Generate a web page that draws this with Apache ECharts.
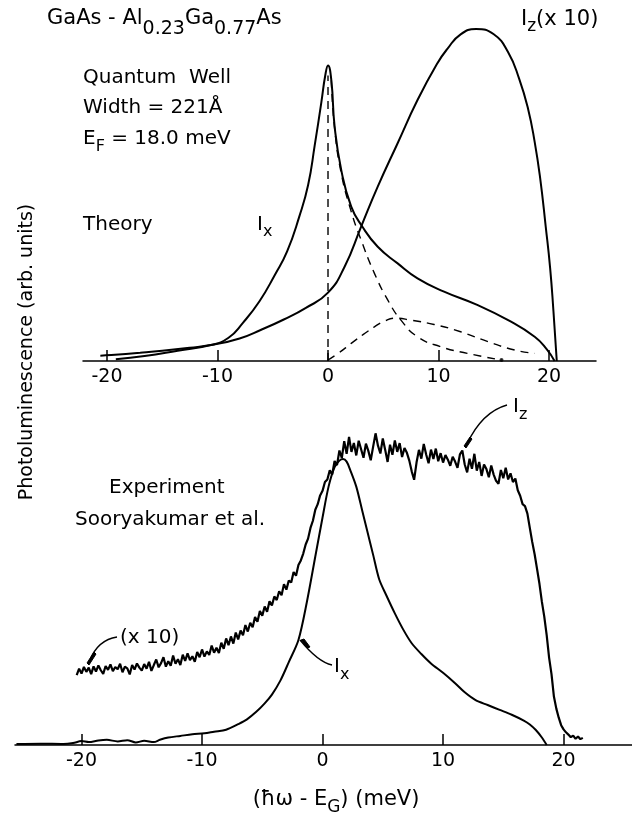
<!DOCTYPE html>
<html><head><meta charset="utf-8">
<script src="https://cdn.jsdelivr.net/npm/echarts@6/dist/echarts.min.js"></script>
<style>html,body{margin:0;padding:0;background:#fff}#c{width:632px;height:815px}</style>
</head><body><div id="c"></div>
<script>
// ---- tick labels ----
const tickValues = [-20, -10, 0, 10, 20];
const tickLabels = ['-20', '-10', '0', '10', '20'];

// ---- Theory panel ----
const thIxX = [-19.2,-16.6,-13.6,-10.6,-9.0,-7.7,-6.2,-4.8,-3.7,-2.6,-1.8,-1.2,-0.6,-0.25,0,0.3,0.6,1.2,2.1,3.1,4.5,6.3,8.1,10.5,13.5,16.3,18.7,19.8,20.5];
const thIxY = [0.5,1.5,3.1,4.8,7.0,11.5,18,26,33,43.5,53,65,78,86,89,84.6,70.6,57.5,46.5,40.5,34.4,29.4,24.9,20.9,16.9,12.3,7.3,3.5,0];
const thIzX = [-20.6,-19.6,-17,-15,-12.5,-10.6,-8,-6,-4,-2,0,1.5,3,4.5,6.3,8.1,9.9,10.8,12,13.4,15,16.3,17.3,18.1,18.7,19.2,19.7,20.1,20.4,20.7];
const thIzY = [1.6,1.8,2.5,3.1,4.0,4.8,6.8,9.5,12.5,16.0,20.6,28.4,40.5,52.5,65.6,78.6,89.7,94,98.4,100,98.4,93,85,76,66,55,40.5,28,15,0];
const thDashVX = [0, 0];
const thDashVY = [0, 86];
const thDashDecayX = [0.3,0.6,1.2,2.1,3.0,4.2,5.4,6.6,8.1,10.2,12.6,15.7];
const thDashDecayY = [84.6,70,56.5,45,36.4,26.4,18.4,12.3,7.3,4.3,2.3,0.3];
const thDashHumpX = [0,1,2.1,3.2,4.2,5.1,6.0,7.5,9.6,12.0,14.5,16.9,18.7];
const thDashHumpY = [0.3,2.5,5.3,8,10.3,12.0,12.9,12.3,11.0,8.8,5.8,3.3,2.3];

// ---- Experiment panel ----
const exIxX = [-25.4,-23.4,-21.5,-20.7,-20.0,-19.4,-18.6,-17.9,-17.0,-16.2,-15.5,-14.8,-14.0,-13.5,-12.8,-11.8,-10.8,-9.8,-9.0,-8.0,-7.0,-6.3,-5.5,-4.8,-4.2,-3.5,-2.8,-2.0,-1.3,-0.6,0,0.5,1.0,1.4,1.7,2.0,2.3,2.8,3.3,3.7,4.2,4.7,5.3,6.0,6.7,7.4,8.2,9.0,10.0,11.0,11.8,12.7,13.7,14.7,15.7,16.7,17.2,17.7,18.2,18.6];
const exIxY = [0.3,0.4,0.3,0.6,1.2,0.9,1.4,1.6,1.1,1.5,0.8,1.3,0.9,1.6,2.3,2.8,3.3,3.6,4.1,4.7,6.4,7.8,10.2,12.8,15.5,19.8,25.5,32.3,44,58,70,79.5,85.5,87.5,88,87.2,84.6,79.5,72,66,58.5,51,46,40.5,35.5,31.3,28,25.1,22.2,19.0,16.2,13.8,12.3,10.8,9.3,7.5,6.3,4.6,2.3,0];
const exIzPts = [[-20.4,21.5],[-20.2,23.5],[-20.0,22.0],[-19.8,24.0],[-19.6,22.5],[-19.4,23.8],[-19.2,21.8],[-19.0,24.2],[-18.8,22.6],[-18.6,24.5],[-18.4,23.0],[-18.2,21.9],[-18.0,24.3],[-17.8,23.1],[-17.6,24.8],[-17.4,22.7],[-17.2,24.0],[-17.0,23.3],[-16.8,25.0],[-16.6,22.4],[-16.4,24.1],[-16.2,23.6],[-16.0,21.7],[-15.8,24.6],[-15.6,23.2],[-15.4,25.1],[-15.2,23.8],[-15.0,22.9],[-14.8,24.9],[-14.6,23.5],[-14.4,25.6],[-14.2,22.8],[-14.0,24.6],[-13.8,26.3],[-13.6,23.9],[-13.4,25.2],[-13.2,27.0],[-13.0,24.1],[-12.8,25.8],[-12.6,24.4],[-12.4,27.5],[-12.2,25.0],[-12.0,26.4],[-11.8,24.6],[-11.6,27.8],[-11.4,25.9],[-11.2,28.2],[-11.0,26.1],[-10.8,27.3],[-10.6,25.6],[-10.4,28.6],[-10.2,27.0],[-10.0,29.4],[-9.8,27.2],[-9.6,28.8],[-9.4,27.7],[-9.2,30.6],[-9.0,28.4],[-8.8,29.9],[-8.6,28.3],[-8.4,31.5],[-8.2,29.6],[-8.0,32.8],[-7.8,30.7],[-7.6,33.4],[-7.4,31.2],[-7.2,34.6],[-7.0,32.5],[-6.8,35.2],[-6.6,33.8],[-6.4,36.9],[-6.2,34.9],[-6.0,37.6],[-5.8,36.2],[-5.6,39.4],[-5.4,37.9],[-5.2,41.2],[-5.0,39.8],[-4.8,42.6],[-4.6,41.0],[-4.4,44.2],[-4.2,42.9],[-4.0,45.7],[-3.8,44.6],[-3.6,47.3],[-3.4,46.1],[-3.2,49.5],[-3.0,47.8],[-2.8,50.6],[-2.6,50.0],[-2.4,53.2],[-2.2,52.1],[-2.0,55.4],[-1.8,56.8],[-1.6,58.9],[-1.4,61.7],[-1.2,63.5],[-1.0,66.8],[-0.8,69.0],[-0.6,72.4],[-0.4,74.1],[-0.2,76.8],[0.0,78.2],[0.2,80.9],[0.4,81.7],[0.6,84.5],[0.8,83.2],[1.0,87.4],[1.2,86.1],[1.4,90.6],[1.6,88.3],[1.8,93.5],[2.0,89.6],[2.2,94.8],[2.4,90.2],[2.6,92.9],[2.8,89.1],[3.0,93.6],[3.2,91.0],[3.4,88.4],[3.6,92.7],[3.8,90.5],[4.0,87.6],[4.2,91.8],[4.4,95.9],[4.6,92.1],[4.8,89.7],[5.0,94.3],[5.2,90.8],[5.4,87.1],[5.6,92.4],[5.8,89.3],[6.0,93.7],[6.2,90.2],[6.4,92.9],[6.6,88.6],[6.8,91.4],[7.0,89.9],[7.2,87.5],[7.4,84.2],[7.6,81.6],[7.8,86.9],[8.0,90.8],[8.2,88.1],[8.4,92.6],[8.6,89.4],[8.8,86.7],[9.0,90.9],[9.2,88.0],[9.4,91.2],[9.6,87.3],[9.8,89.8],[10.0,86.9],[10.2,89.2],[10.4,87.8],[10.6,85.9],[10.8,88.7],[11.0,87.2],[11.2,85.3],[11.4,89.4],[11.6,90.6],[11.8,86.3],[12.0,83.9],[12.2,88.1],[12.4,85.0],[12.6,89.6],[12.8,84.4],[13.0,87.1],[13.2,82.8],[13.4,86.3],[13.6,84.9],[13.8,82.4],[14.0,86.0],[14.2,83.2],[14.4,81.3],[14.6,80.4],[14.8,84.6],[15.0,82.1],[15.2,85.3],[15.4,81.7],[15.6,83.6],[15.8,80.9],[16.0,82.0],[16.2,78.4],[16.4,76.7],[16.6,74.1],[16.8,73.5],[17.0,71.2],[17.2,66.8],[17.4,62.5],[17.6,58.7],[17.8,54.2],[18.0,49.6],[18.2,44.1],[18.4,39.5],[18.6,33.8],[18.8,26.9],[19.0,21.8],[19.2,14.9],[19.4,11.2],[19.6,8.4],[19.8,6.1],[20.0,4.8],[20.2,3.9],[20.4,3.2],[20.6,2.4],[20.8,2.9],[21.0,1.9],[21.2,2.6],[21.4,1.8],[21.6,2.2]];

function zip(xs, ys) { return xs.map((x, i) => [x, ys[i]]); }

const FONT = 'DejaVu Sans';
const mctx = document.createElement('canvas').getContext('2d');
function tw(t, sz) { mctx.font = sz + 'px "' + FONT + '"'; return mctx.measureText(t).width; }
function seq(x, y, parts, center) {
  const els = [];
  let total = 0; parts.forEach(([t, dy, sz]) => { total += tw(t, sz); });
  let cx = center ? x - total / 2 : x;
  parts.forEach(([t, dy, sz]) => {
    els.push({ type: 'text', x: cx, y: y + dy, silent: true,
      style: { text: t, font: sz + 'px "' + FONT + '"', fill: '#000', align: 'left', verticalAlign: 'middle' } });
    cx += tw(t, sz);
  });
  return els;
}
function txt(x, y, t, sz) {
  return { type: 'text', x: x, y: y, silent: true,
    style: { text: t, font: sz + 'px "' + FONT + '"', fill: '#000', align: 'left', verticalAlign: 'middle' } };
}
function leader(x1, y1, cx, cy, x2, y2) {
  return { type: 'bezierCurve', silent: true, shape: { x1, y1, cpx1: cx, cpy1: cy, x2, y2 },
    style: { stroke: '#000', lineWidth: 1.3, fill: null } };
}
function sliver(pts) {
  return { type: 'polygon', silent: true, shape: { points: pts }, style: { fill: '#000', stroke: '#000', lineWidth: 1 } };
}

const axisCommon = (min, max) => ({
  type: 'value', min, max, position: 'bottom',
  axisLine: { show: true, onZero: false, lineStyle: { color: '#000', width: 1.5 } },
  axisTick: { show: true, inside: true, length: 11, customValues: tickValues, lineStyle: { color: '#000', width: 1.5 } },
  axisLabel: { customValues: tickValues, color: '#000', fontSize: 19, fontFamily: FONT, margin: 7,
    formatter: v => tickLabels[tickValues.indexOf(v)] },
  splitLine: { show: false }
});

const solid = { color: '#000', width: 2 };
const dashed = { color: '#000', width: 1.4, type: [8, 6] };

const chart = echarts.init(document.getElementById('c'), null, { renderer: 'canvas' });
chart.setOption({
  animation: false,
  backgroundColor: '#fff',
  grid: [
    { left: 83, width: 513, top: 29, height: 332 },
    { left: 15, right: 0, top: 420, height: 325 }
  ],
  xAxis: [
    Object.assign({ gridIndex: 0 }, axisCommon(-22.17, 24.25)),
    Object.assign({ gridIndex: 1 }, axisCommon(-25.52, 25.68))
  ],
  yAxis: [
    { gridIndex: 0, type: 'value', min: 0, max: 100, show: false },
    { gridIndex: 1, type: 'value', min: 0, max: 100, show: false }
  ],
  series: [
    { type: 'line', xAxisIndex: 0, yAxisIndex: 0, data: zip(thIxX, thIxY), symbol: 'none', smooth: 0.5, lineStyle: solid },
    { type: 'line', xAxisIndex: 0, yAxisIndex: 0, data: zip(thIzX, thIzY), symbol: 'none', smooth: 0.5, lineStyle: solid },
    { type: 'line', xAxisIndex: 0, yAxisIndex: 0, data: zip(thDashVX, thDashVY), symbol: 'none', lineStyle: dashed },
    { type: 'line', xAxisIndex: 0, yAxisIndex: 0, data: zip(thDashDecayX, thDashDecayY), symbol: 'none', smooth: 0.5, lineStyle: dashed },
    { type: 'scatter', xAxisIndex: 0, yAxisIndex: 0, data: [[thDashDecayX[thDashDecayX.length - 1], thDashDecayY[thDashDecayY.length - 1]]], symbol: 'circle', symbolSize: 4, itemStyle: { color: '#000' }, silent: true },
    { type: 'line', xAxisIndex: 0, yAxisIndex: 0, data: zip(thDashHumpX, thDashHumpY), symbol: 'none', smooth: 0.5, lineStyle: dashed },
    { type: 'line', xAxisIndex: 1, yAxisIndex: 1, data: zip(exIxX, exIxY), symbol: 'none', smooth: 0.3, lineStyle: solid },
    { type: 'line', xAxisIndex: 1, yAxisIndex: 1, data: exIzPts, symbol: 'none', lineStyle: { color: '#000', width: 2.2 } }
  ],
  graphic: [].concat(
    seq(47, 19, [['GaAs - Al', 0, 21], ['0.23', 10, 19], ['Ga', 0, 21], ['0.77', 10, 19], ['As', 0, 21]]),
    seq(521, 20, [['I', 0, 21], ['z', 7, 17], ['(x 10)', 0, 21]]),
    [txt(83, 78, 'Quantum  Well', 20), txt(83, 108, 'Width = 221Å', 20)],
    seq(83, 139, [['E', 0, 20], ['F', 8, 16], [' = 18.0 meV', 0, 20]]),
    [txt(83, 225, 'Theory', 20)],
    seq(257, 225, [['I', 0, 20], ['x', 7, 16]]),
    [txt(109, 488, 'Experiment', 20), txt(75, 520, 'Sooryakumar et al.', 20), txt(120, 638, '(x 10)', 20)],
    seq(334, 667, [['I', 0, 20], ['x', 8, 16]]),
    seq(513, 407, [['I', 0, 20], ['z', 8, 16]]),
    seq(336, 800, [['(ħω - E', 0, 21], ['G', 8, 17], [') (meV)', 0, 21]], true),
    [{ type: 'text', x: 27, y: 352, rotation: Math.PI / 2, silent: true,
       style: { text: 'Photoluminescence (arb. units)', font: '19px "' + FONT + '"', fill: '#000', align: 'center', verticalAlign: 'middle' } }],
    [leader(117, 637, 98, 640, 90, 660), sliver([[94, 652], [96, 654], [89, 665], [87, 663]])],
    [leader(300, 640, 318, 662, 332, 665), sliver([[301, 640], [304, 639], [310, 647], [307, 648]])],
    [leader(507, 405, 482, 412, 467, 444), sliver([[470, 437], [472, 439], [466, 448], [464, 446]])]
  )
});
</script>
</body></html>
